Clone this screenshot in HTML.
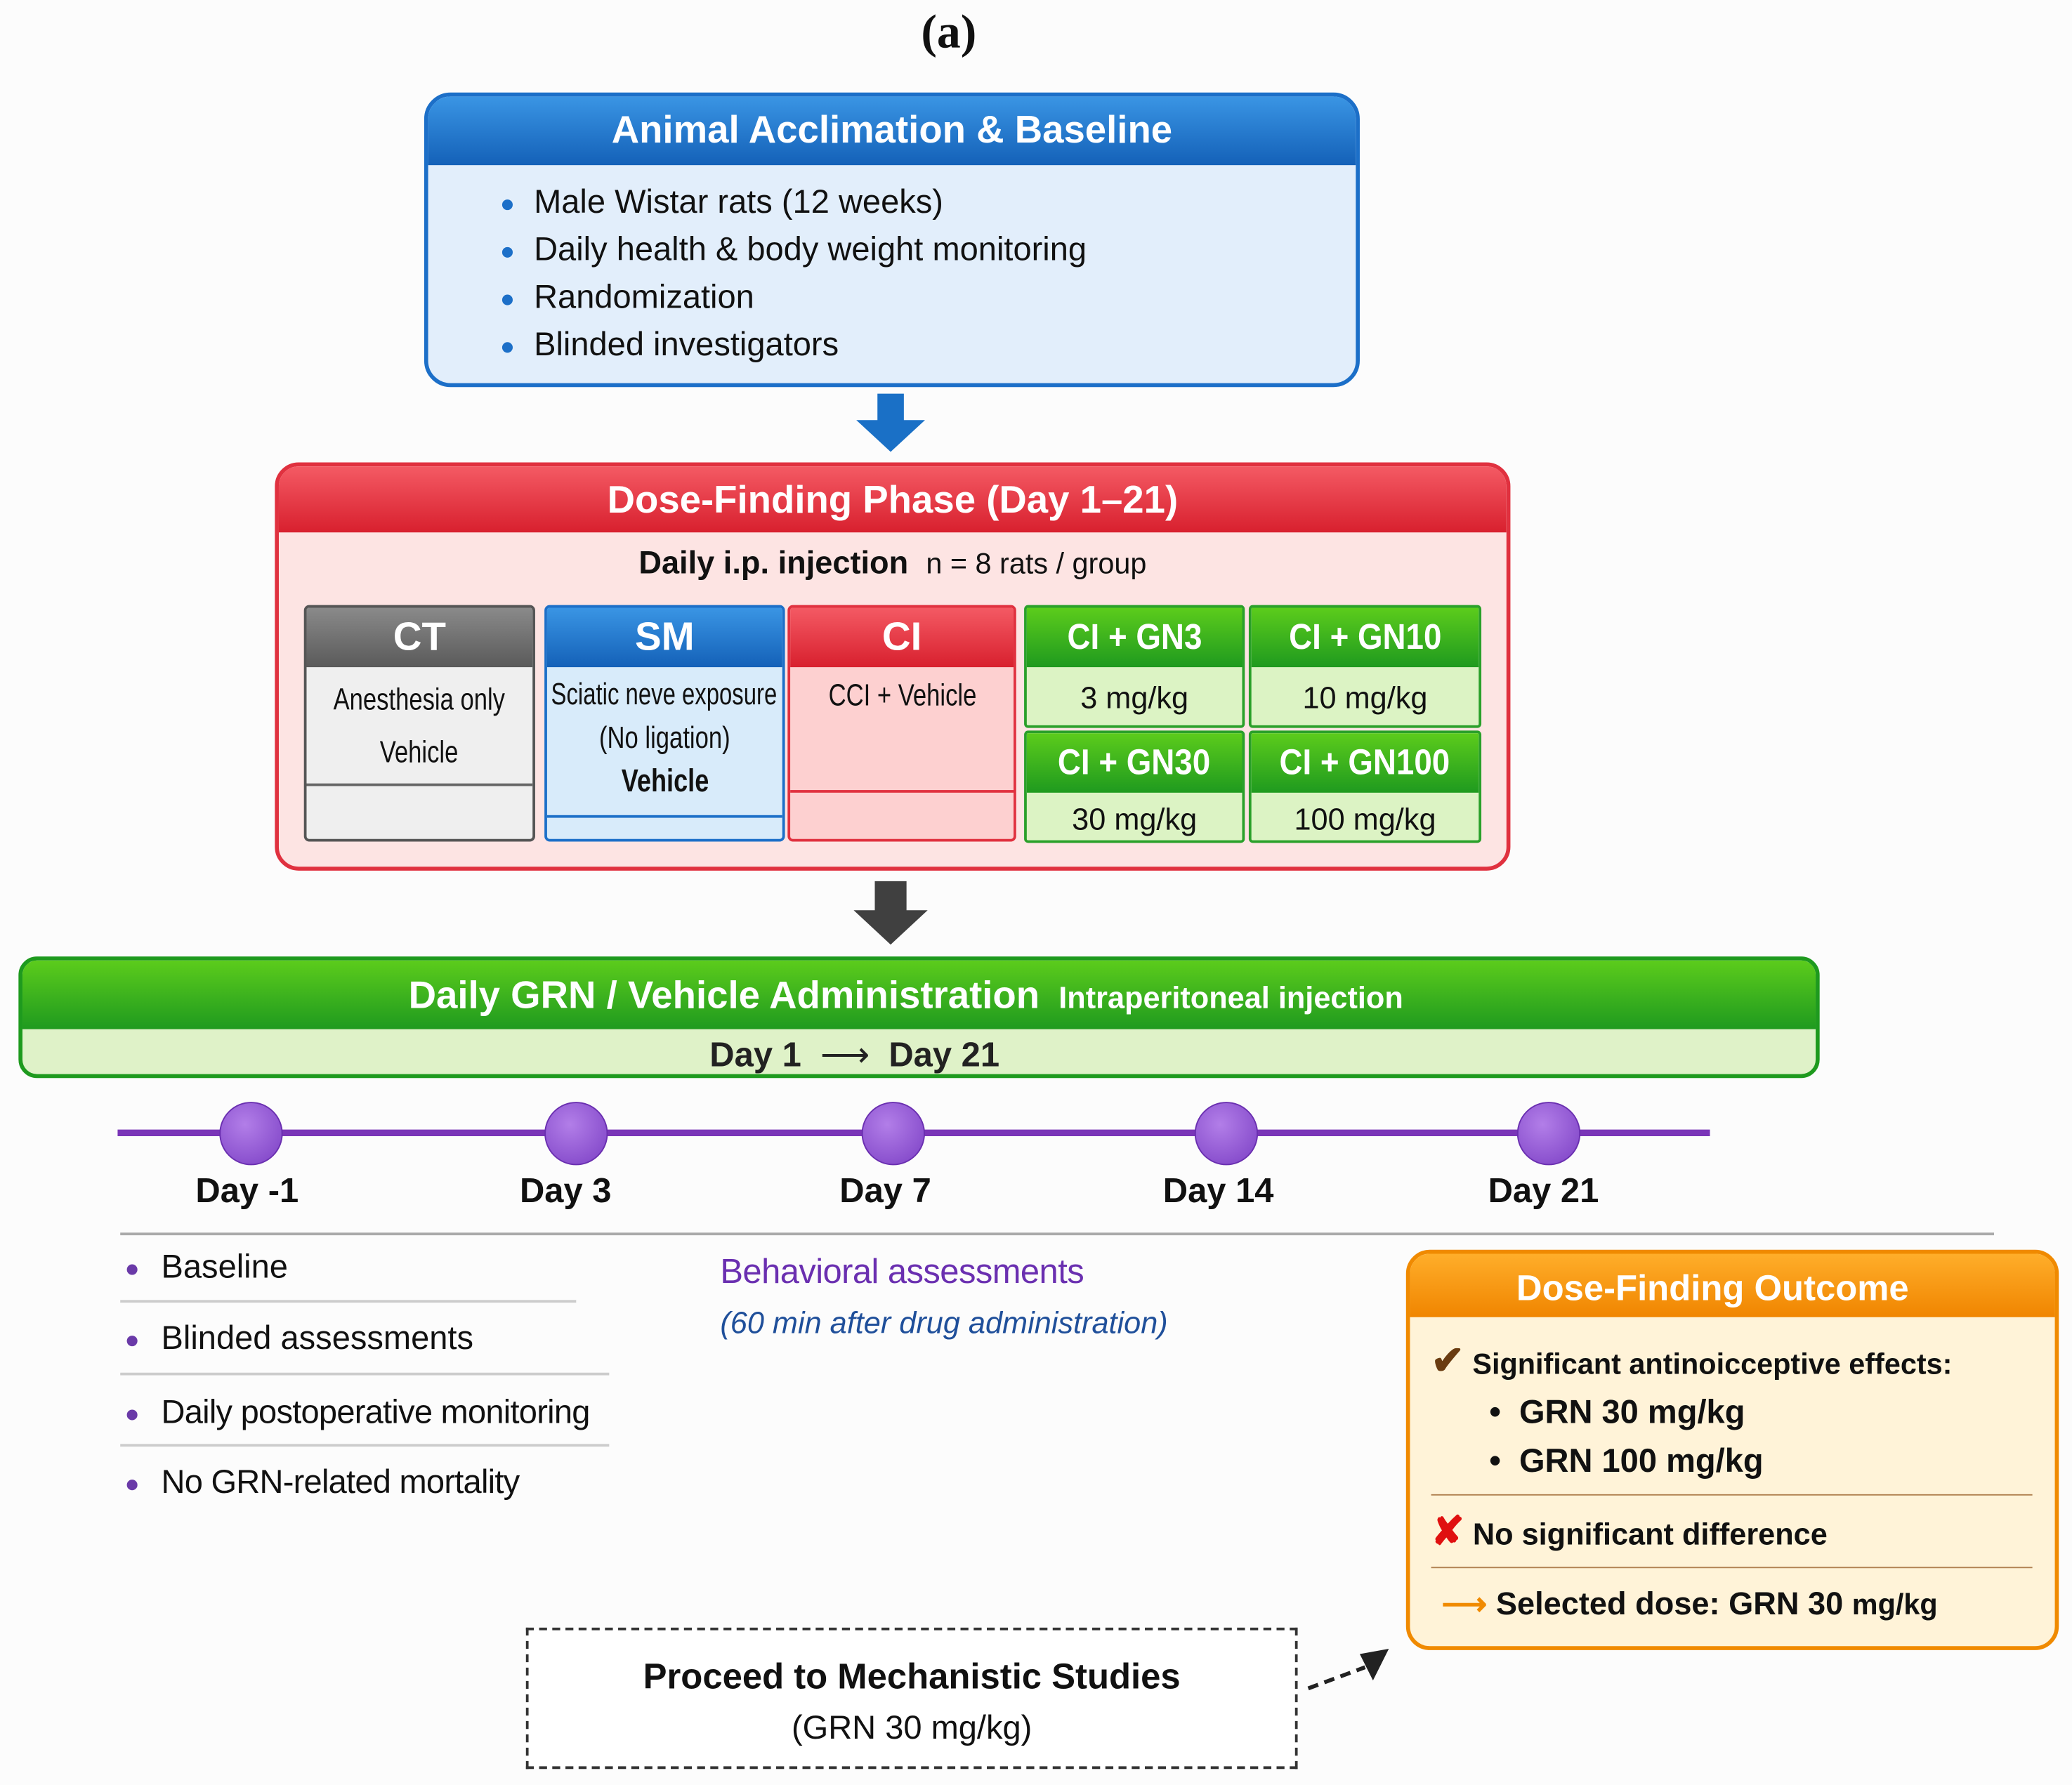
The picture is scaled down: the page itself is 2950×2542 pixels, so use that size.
<!DOCTYPE html>
<html><head><meta charset="utf-8"><style>
html,body{margin:0;padding:0;background:#fcfcfc;}
body{width:2950px;height:2542px;overflow:hidden;position:relative;}
#c{position:absolute;left:0;top:0;width:1568px;height:1351px;transform:scale(1.8814);transform-origin:0 0;font-family:"Liberation Sans",sans-serif;color:#111;}
.a{position:absolute;}
.box{position:absolute;box-sizing:border-box;overflow:hidden;}
.hd{position:absolute;left:0;right:0;top:0;color:#fff;font-weight:bold;text-align:center;}
.c{text-align:center;white-space:nowrap;}
.sb{position:absolute;box-sizing:border-box;border:2px solid;border-radius:4px;overflow:hidden;}
.sb .h{height:45px;line-height:45px;color:#fff;font-weight:bold;font-size:30px;text-align:center;}
.sb .t{text-align:center;font-size:23px;white-space:nowrap;}
.sq{display:inline-block;transform:scaleX(0.8);transform-origin:50% 50%;margin:0 -40px;}
.g{position:absolute;box-sizing:border-box;border:2px solid #2aa02a;border-radius:3px;overflow:hidden;background:#dcf3c4;}
.g .h{height:45px;line-height:45px;color:#fff;font-weight:bold;font-size:27px;text-align:center;background:linear-gradient(#5ccc1c,#1f9a1f);white-space:nowrap;}
.g .t{text-align:center;font-size:23px;line-height:46px;}
.dot{position:absolute;width:46px;height:46px;border-radius:50%;background:radial-gradient(circle at 40% 35%,#b27ee8,#7b3fc4);border:1px solid #6a2fb0;}
.dl{position:absolute;font-size:26px;font-weight:bold;width:140px;text-align:center;}
.li{position:absolute;font-size:25px;}
.li:before{content:"";position:absolute;left:-26px;top:12px;width:8px;height:8px;border-radius:50%;background:#6a3aa8;}
.sep{position:absolute;height:2px;background:#ccc;}
</style></head><body><div id="c">
<div class="a c" style="left:668px;top:3px;width:100px;font-family:'Liberation Serif',serif;font-size:36px;font-weight:bold;">(a)</div>

<!-- Box 1 -->
<div class="box" style="left:321px;top:70px;width:708px;height:223px;border:3px solid #1c6fc8;border-radius:20px;background:#e2eefb;">
 <div class="hd" style="height:52px;line-height:52px;font-size:29px;background:linear-gradient(#3a95e4,#1461b8);">Animal Acclimation &amp; Baseline</div>
 <div class="li" style="left:80px;top:66px;font-size:25px;">Male Wistar rats (12 weeks)</div>
 <div class="li" style="left:80px;top:102px;font-size:25px;">Daily health &amp; body weight monitoring</div>
 <div class="li" style="left:80px;top:138px;font-size:25px;">Randomization</div>
 <div class="li" style="left:80px;top:174px;font-size:25px;">Blinded investigators</div>
</div>
<style>.box .li:before{background:#1c6fc8;left:-24px;}</style>
<svg class="a" style="left:644px;top:296px" width="60" height="50"><polygon points="20,2 40,2 40,22 56,22 30,46 4,22 20,22" fill="#1a70c6"/></svg>

<!-- Box 2 -->
<div class="box" style="left:208px;top:350px;width:935px;height:309px;border:3px solid #e0313f;border-radius:18px;background:#fde4e3;">
 <div class="hd" style="height:50px;line-height:52px;font-size:29px;background:linear-gradient(#f45a64,#d8202e);">Dose-Finding Phase (Day 1–21)</div>
 <div class="a c" style="left:0;right:0;top:60px;font-size:24px;"><b>Daily i.p. injection</b>&nbsp; <span style="font-size:22px">n = 8 rats / group</span></div>
</div>
<div class="sb" style="left:230px;top:458px;width:175px;height:179px;border-color:#555;background:#efefef;">
 <div class="h" style="background:linear-gradient(#8a8a8a,#5a5a5a)">CT</div>
 <div class="t" style="margin-top:4px;line-height:40px;"><span class="sq">Anesthesia only</span><br><span class="sq">Vehicle</span></div>
 <div class="a" style="left:0;right:0;top:133px;height:2px;background:#666"></div>
</div>
<div class="sb" style="left:412px;top:458px;width:182px;height:179px;border-color:#1c6fc8;background:#d8ebfa;">
 <div class="h" style="background:linear-gradient(#3a95e4,#1461b8)">SM</div>
 <div class="t" style="margin-top:4px;line-height:33px;"><span class="sq" style="transform:scaleX(0.76)">Sciatic neve exposure</span><br><span class="sq">(No ligation)</span><br><span class="sq" style="font-size:24px;font-weight:bold">Vehicle</span></div>
 <div class="a" style="left:0;right:0;top:157px;height:2px;background:#1c6fc8"></div>
</div>
<div class="sb" style="left:596px;top:458px;width:173px;height:179px;border-color:#e0313f;background:#fdd0d0;">
 <div class="h" style="background:linear-gradient(#f45a64,#d8202e)">CI</div>
 <div class="t" style="margin-top:6px;line-height:30px;"><span class="sq">CCI + Vehicle</span></div>
 <div class="a" style="left:0;right:0;top:138px;height:2px;background:#e0313f"></div>
</div>
<div class="g" style="left:775px;top:458px;width:167px;height:93px;"><div class="h"><span class="sq" style="transform:scaleX(0.9)">CI + GN3</span></div><div class="t">3 mg/kg</div></div>
<div class="g" style="left:945px;top:458px;width:176px;height:93px;"><div class="h"><span class="sq" style="transform:scaleX(0.9)">CI + GN10</span></div><div class="t">10 mg/kg</div></div>
<div class="g" style="left:775px;top:553px;width:167px;height:85px;"><div class="h"><span class="sq" style="transform:scaleX(0.9)">CI + GN30</span></div><div class="t" style="line-height:40px">30 mg/kg</div></div>
<div class="g" style="left:945px;top:553px;width:176px;height:85px;"><div class="h"><span class="sq" style="transform:scaleX(0.9)">CI + GN100</span></div><div class="t" style="line-height:40px">100 mg/kg</div></div>

<svg class="a" style="left:644px;top:665px" width="60" height="52"><polygon points="18,2 42,2 42,24 58,24 30,50 2,24 18,24" fill="#404040"/></svg>

<!-- Green bar -->
<div class="box" style="left:14px;top:724px;width:1363px;height:92px;border:3px solid #1e9a1e;border-radius:14px;background:#dff2c8;">
 <div class="hd" style="height:52px;line-height:54px;font-size:29px;background:linear-gradient(#5ccc1c,#1f9a1f);padding-right:20px;">Daily GRN / Vehicle Administration <span style="font-size:23px">&nbsp;Intraperitoneal injection</span></div>
 <div class="a c" style="left:520px;top:56px;font-size:26px;font-weight:bold;color:#222;">Day 1 &nbsp;<span style="font-weight:normal">⟶</span>&nbsp; Day 21</div>
</div>

<!-- timeline -->
<div class="a" style="left:89px;top:855px;width:1205px;height:5px;background:#7a35b8;"></div>
<div class="dot" style="left:166px;top:834px"></div>
<div class="dot" style="left:412px;top:834px"></div>
<div class="dot" style="left:652px;top:834px"></div>
<div class="dot" style="left:904px;top:834px"></div>
<div class="dot" style="left:1148px;top:834px"></div>
<div class="dl" style="left:117px;top:886px">Day -1</div>
<div class="dl" style="left:358px;top:886px">Day 3</div>
<div class="dl" style="left:600px;top:886px">Day 7</div>
<div class="dl" style="left:852px;top:886px">Day 14</div>
<div class="dl" style="left:1098px;top:886px">Day 21</div>
<div class="a" style="left:91px;top:933px;width:1418px;height:2px;background:#aaa;"></div>

<div class="li" style="left:122px;top:945px">Baseline</div>
<div class="sep" style="left:91px;top:984px;width:345px"></div>
<div class="li" style="left:122px;top:999px">Blinded assessments</div>
<div class="sep" style="left:91px;top:1039px;width:370px"></div>
<div class="li" style="left:122px;top:1055px;letter-spacing:-0.4px">Daily postoperative monitoring</div>
<div class="sep" style="left:91px;top:1093px;width:370px"></div>
<div class="li" style="left:122px;top:1108px;letter-spacing:-0.4px">No GRN-related mortality</div>

<div class="a" style="left:545px;top:947px;font-size:26px;color:#6a2fb0;letter-spacing:-0.3px">Behavioral assessments</div>
<div class="a" style="left:545px;top:988px;font-size:23px;font-style:italic;color:#1f4f9a;">(60 min after drug administration)</div>

<!-- Outcome -->
<div class="box" style="left:1064px;top:946px;width:494px;height:303px;border:3px solid #f08a00;border-radius:18px;background:#fff3d8;">
 <div class="hd" style="height:48px;line-height:52px;font-size:27px;background:linear-gradient(#ffae2a,#f08500);padding-right:30px;">Dose-Finding Outcome</div>
 <div class="a" style="left:16px;top:64px;font-size:22px;font-weight:bold;white-space:nowrap;"><span style="color:#6a3b10;font-size:30px">✔</span> Significant antinoicceptive effects:</div>
 <div class="a" style="left:60px;top:106px;font-size:25px;font-weight:bold;">•&nbsp; GRN 30 mg/kg</div>
 <div class="a" style="left:60px;top:143px;font-size:25px;font-weight:bold;">•&nbsp; GRN 100 mg/kg</div>
 <div class="a" style="left:16px;top:182px;width:455px;height:1px;background:#b08050;"></div>
 <div class="a" style="left:16px;top:193px;font-size:23px;font-weight:bold;"><span style="color:#e01010;font-size:30px">✘</span> No significant difference</div>
 <div class="a" style="left:16px;top:237px;width:455px;height:1px;background:#b08050;"></div>
 <div class="a" style="left:24px;top:251px;font-size:24px;font-weight:bold;"><span style="color:#f08a00">⟶</span> Selected dose: GRN 30 <span style="font-size:22px">mg/kg</span></div>
</div>

<!-- Proceed -->
<div class="box" style="left:398px;top:1232px;width:584px;height:107px;border:2px dashed #333;background:#fff;">
 <div class="a c" style="left:0;right:0;top:20px;font-size:27px;font-weight:bold;">Proceed to Mechanistic Studies</div>
 <div class="a c" style="left:0;right:0;top:60px;font-size:25px;">(GRN 30 mg/kg)</div>
</div>
<svg class="a" style="left:985px;top:1240px" width="80" height="50"><line x1="5" y1="38" x2="48" y2="22" stroke="#222" stroke-width="3" stroke-dasharray="8,5"/><polygon points="66,8 44,12 54,32" fill="#222"/></svg>
</div></body></html>
